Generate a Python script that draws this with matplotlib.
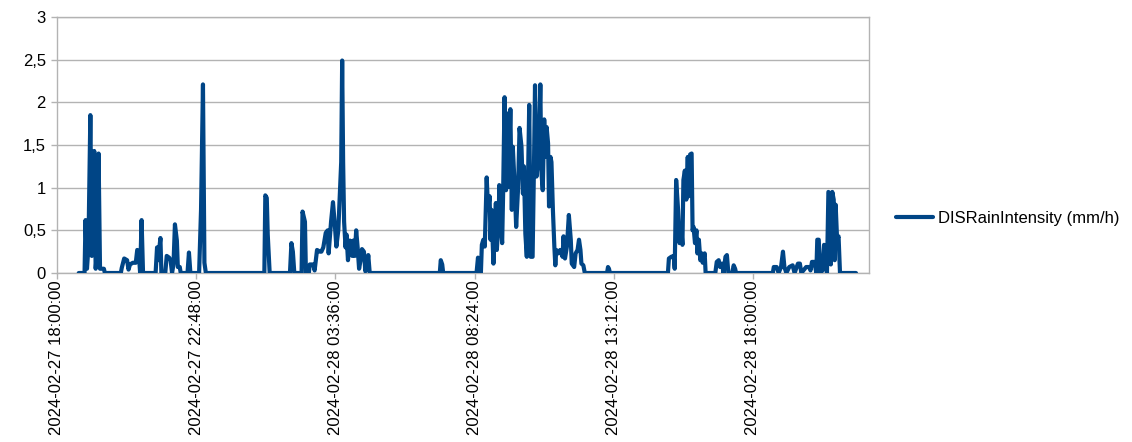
import matplotlib
matplotlib.use("Agg")
import matplotlib.pyplot as plt
import matplotlib.dates as mdates
import matplotlib.ticker as mticker
import pandas as pd

plt.rcParams['font.family'] = ['Liberation Sans', 'DejaVu Sans']

series_name = "DISRainIntensity (mm/h)"
start_time = "2024-02-27 18:00:00"
end_time = "2024-02-28 22:00:00"
tick_step_minutes = 288
y_ticks = [0, 0.5, 1, 1.5, 2, 2.5, 3]

# minutes after start_time
minutes = [
    45, 57, 59, 62, 65, 69, 72, 74, 77, 80, 82, 86, 89, 97, 99,
    132, 134, 139, 145, 148, 151, 157, 163, 166, 169, 172, 175, 178,
    204, 207, 209, 214, 216, 224, 227, 232, 235, 238, 241, 244, 248, 250, 254, 256,
    270, 273, 276, 294, 296, 298, 302, 305, 308,
    429, 431, 434, 436, 440, 482, 485, 488, 491, 506, 508, 513, 515,
    521, 523, 530, 533, 538, 544, 547, 551, 556, 560, 562, 567, 571, 575, 578, 582,
    588, 590, 592, 594, 597, 599, 602, 606, 611, 613, 616, 619, 622, 625, 629, 631,
    635, 638, 642, 644, 647,
    792, 794, 797, 799,
    868, 871, 874, 877, 879, 882, 885, 887, 889, 892, 895, 897, 899, 903, 908, 910,
    914, 915, 918, 921, 923, 926, 929, 931, 934, 938, 941, 943, 947, 950, 954, 957,
    961, 964, 966, 969, 972, 974, 977, 980, 984, 987, 989, 992, 997, 1000, 1002, 1005,
    1008, 1011, 1013, 1016, 1018, 1021, 1023, 1026, 1029, 1031, 1033, 1037, 1041, 1046,
    1048, 1051, 1055, 1059, 1063, 1065, 1070, 1073, 1077, 1080, 1083, 1085, 1089, 1092,
    1138, 1140, 1142, 1144,
    1264, 1266, 1271, 1276, 1278, 1281, 1285, 1288, 1292, 1294, 1296, 1299, 1302, 1305,
    1307, 1310, 1313, 1315, 1317, 1320, 1323, 1325, 1328, 1331, 1334, 1336, 1340, 1342,
    1362, 1365, 1369, 1372, 1376, 1379, 1383, 1386, 1389, 1397, 1400, 1403, 1405,
    1481, 1483, 1489, 1493, 1498, 1502, 1505, 1509, 1515, 1522, 1526, 1533, 1537, 1540,
    1550, 1556, 1559, 1562, 1567, 1571, 1573, 1576, 1579, 1584, 1587, 1591, 1593, 1596,
    1599, 1601, 1604, 1607, 1609, 1611, 1614, 1617, 1620, 1653,
]

rain_intensity = [
    0, 0, 0.62, 0.05, 0.3, 1.85, 0.2, 0.3, 1.43, 0.05, 0.2, 1.40, 0.05, 0.05, 0,
    0, 0.06, 0.17, 0.15, 0.04, 0.1, 0.12, 0.12, 0.27, 0.25, 0, 0.62, 0,
    0, 0.3, 0.15, 0.41, 0, 0, 0.2, 0.18, 0.15, 0, 0.1, 0.57, 0.38, 0.07, 0.07, 0,
    0, 0.24, 0, 0, 0.35, 0.74, 2.21, 0.12, 0,
    0, 0.91, 0.88, 0.45, 0, 0, 0.35, 0.25, 0, 0, 0.72, 0.6, 0,
    0, 0.1, 0.1, 0.03, 0.27, 0.25, 0.25, 0.3, 0.47, 0.5, 0.23, 0.6, 0.83, 0.55, 0.31, 0.5,
    1.3, 2.49, 1.3, 0.6, 0.3, 0.45, 0.15, 0.38, 0.2, 0.38, 0.2, 0.5, 0.3, 0.05, 0.18, 0.28,
    0.25, 0.02, 0.1, 0.21, 0,
    0, 0.15, 0.1, 0,
    0, 0.18, 0.02, 0, 0.33, 0.39, 0.31, 0.7, 1.12, 0.74, 0.9, 0.39, 0.74, 0.11, 0.82, 0.27,
    0.66, 1.03, 0.6, 0.35, 0.93, 2.06, 0.97, 1.87, 1.01, 1.92, 0.74, 1.48, 1.01, 0.54, 1.0, 1.7,
    1.48, 0.93, 1.25, 0.46, 0.19, 0.93, 1.97, 0.19, 0.19, 1.32, 2.2, 1.13, 1.44, 2.21, 1.2, 0.97,
    1.8, 1.36, 1.71, 1.52, 0.78, 1.36, 1.3, 0.74, 0.31, 0.09, 0.27, 0.23, 0.27, 0.19,
    0.43, 0.17, 0.31, 0.68, 0.39, 0.11, 0.07, 0.23, 0.27, 0.39, 0.27, 0.11, 0.09, 0,
    0, 0.07, 0.05, 0,
    0, 0.17, 0.19, 0.2, 0.05, 1.09, 0.74, 0.35, 0.5, 0.33, 1.09, 1.2, 0.86, 1.36,
    0.9, 1.39, 1.4, 0.5, 0.54, 0.35, 0.5, 0.23, 0.39, 0.15, 0.23, 0.12, 0.23, 0,
    0, 0.13, 0.15, 0.07, 0.11, 0, 0.19, 0.21, 0, 0, 0.09, 0.05, 0,
    0, 0.07, 0.07, 0, 0.07, 0.25, 0.07, 0, 0.07, 0.09, 0, 0.11, 0.11, 0,
    0.07, 0.07, 0.03, 0.13, 0.13, 0, 0.39, 0.39, 0, 0.03, 0.33, 0.3, 0, 0.95,
    0.93, 0.1, 0.95, 0.86, 0.15, 0.8, 0.39, 0.43, 0, 0,
]

t0 = pd.Timestamp(start_time)
times = t0 + pd.to_timedelta(minutes, unit="min")
tick_times = pd.date_range(start_time, end_time, freq=f"{tick_step_minutes}min")

fig = plt.figure(figsize=(11.32, 4.42), dpi=100)
ax = fig.add_axes([57/1132, 1-273/442, (869-57)/1132, (273-17)/442])

grid_color = "#b3b3b3"
line, = ax.plot(times.to_pydatetime(), rain_intensity, color="#004586", linewidth=3,
                solid_joinstyle="round", solid_capstyle="round",
                label=series_name, zorder=3)

ax.set_xlim(t0, pd.Timestamp(end_time))
ax.set_ylim(0, 3)
ax.set_yticks(y_ticks)
ax.yaxis.set_major_formatter(mticker.FuncFormatter(
    lambda v, p: (f"{v:g}").replace(".", ",")))
ax.set_xticks(tick_times.to_pydatetime())
ax.xaxis.set_major_formatter(mdates.DateFormatter("%Y-%m-%d %H:%M:%S"))
for lab in ax.get_xticklabels():
    lab.set_rotation(90)
    lab.set_ha("center")
    lab.set_va("top")

ax.grid(axis="y", color=grid_color, linewidth=1)
ax.set_axisbelow(True)
for s in ax.spines.values():
    s.set_color(grid_color)
    s.set_linewidth(1)
ax.tick_params(axis="both", colors=grid_color, labelcolor="black", labelsize=12,
               length=4, width=1, direction="out")
ax.tick_params(axis="y", pad=4)
ax.tick_params(axis="x", pad=1)

fig.legend(handles=[line], labels=[series_name], loc="center left",
           bbox_to_anchor=(896/1132, 1-218/442), frameon=False, fontsize=12,
           handlelength=2.2, handletextpad=0.35, borderpad=0, borderaxespad=0)

fig.savefig("out.png", dpi=100)
